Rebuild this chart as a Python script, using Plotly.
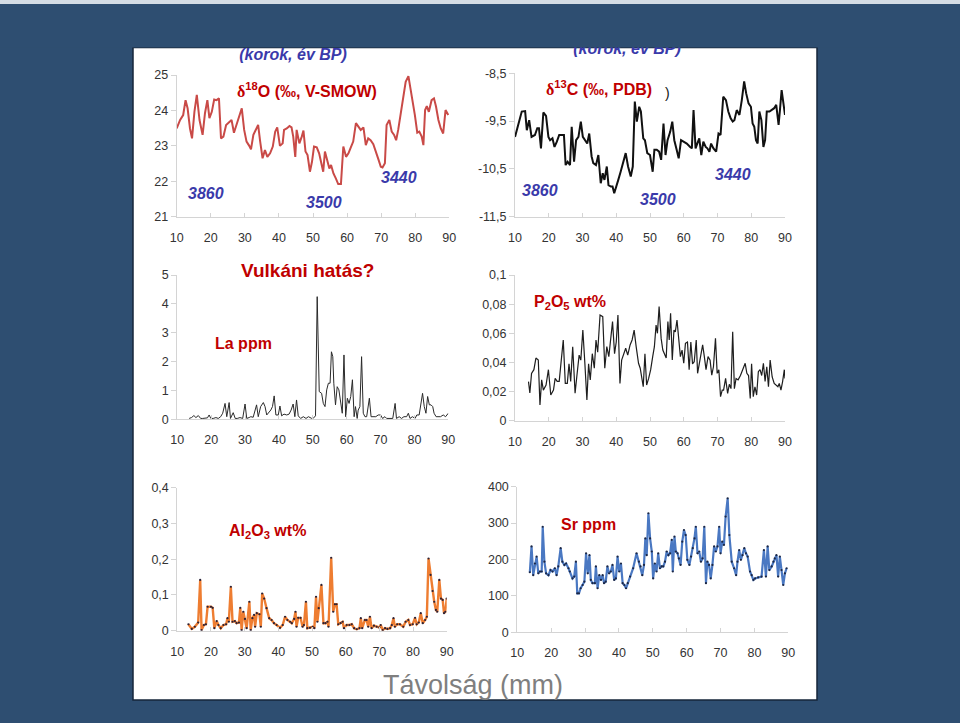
import plotly.graph_objects as go

W, H = 960, 723

# ---------------- data ----------------
x_ticks = [10, 20, 30, 40, 50, 60, 70, 80, 90]

d18o_x = [10.0, 11.0, 11.9, 12.6, 13.2, 13.9, 14.5, 15.2, 15.9, 16.7,
          17.6, 18.3, 19.0, 19.6, 20.3, 21.0, 21.7, 22.4, 23.0, 23.7,
          24.5, 25.5, 26.1, 26.8, 27.6, 28.4, 29.1, 29.8, 30.5, 31.3,
          31.8, 32.5, 33.3, 33.9, 34.5, 35.2, 35.9, 36.6, 37.4, 38.2,
          38.9, 39.5, 40.3, 41.1, 41.5, 42.3, 43.1, 43.7, 44.2, 44.8,
          45.2, 46.0, 46.7, 47.2, 47.8, 48.4, 49.1, 49.7, 50.3, 51.1,
          51.8, 52.5, 53.0, 53.5, 54.0, 54.8, 55.3, 56.0, 56.7, 57.4,
          58.2, 58.9, 59.7, 60.4, 61.1, 61.8, 62.6, 63.3, 64.0, 64.8,
          65.5, 66.2, 66.9, 67.7, 68.5, 69.2, 69.9, 70.4, 71.1, 71.6,
          72.4, 73.1, 73.8, 74.4, 75.0, 75.7, 76.5, 77.2, 78.0, 78.7,
          79.2, 79.9, 80.6, 81.2, 81.9, 82.4, 82.9, 83.4, 84.0, 84.8,
          85.5, 86.1, 86.8, 87.5, 88.2, 88.9, 89.7]
d18o_y = [23.49, 23.73, 23.87, 24.29, 24.06, 23.49, 23.21, 23.96, 24.44, 23.73,
          23.31, 23.92, 24.29, 23.78, 23.96, 24.31, 24.29, 24.34, 23.21, 23.26,
          23.59, 23.68, 23.73, 23.37, 23.59, 23.82, 24.06, 23.45, 23.12, 23.0,
          22.9, 23.31, 23.45, 23.59, 23.12, 22.65, 22.88, 22.69, 22.79, 22.98,
          23.4, 23.52, 23.0, 23.07, 23.45, 23.49, 23.56, 23.52, 23.26, 22.69,
          23.45, 23.07, 23.26, 23.43, 22.84, 22.74, 22.27, 22.55, 22.98, 22.96,
          22.79, 22.43, 22.27, 22.84, 22.65, 22.36, 22.46, 22.22, 22.08, 21.92,
          21.92, 22.98, 22.69, 22.79, 22.96, 23.12, 23.64, 23.54, 23.45, 23.52,
          23.02, 23.21, 23.16, 23.05, 22.84, 22.62, 22.41, 22.39, 22.51, 23.59,
          23.73, 23.4, 23.31, 23.16, 23.45, 23.87, 24.39, 24.81, 24.97, 24.58,
          24.2, 23.87, 23.37, 23.4, 23.26, 23.02, 24.01, 24.12, 23.96, 24.29,
          24.34, 24.11, 23.73, 23.49, 23.35, 24.01, 23.87]
d18o_ticks = [21, 22, 23, 24, 25]
d18o_ticktext = ["21", "22", "23", "24", "25"]

d13c_x = [10.0, 11.0, 12.0, 13.0, 13.5, 14.2, 14.9, 15.9, 16.6, 17.1,
          17.7, 18.4, 19.2, 19.9, 20.4, 21.1, 21.7, 22.4, 23.1, 23.8,
          24.5, 25.0, 25.6, 26.3, 26.8, 27.5, 28.1, 28.8, 29.5, 30.1,
          30.7, 31.4, 32.0, 32.7, 33.2, 34.0, 34.7, 35.4, 36.0, 36.5,
          37.2, 37.7, 38.4, 38.9, 39.4, 39.9, 40.6, 41.3, 42.1, 42.8,
          43.5, 44.3, 44.9, 45.5, 46.1, 46.8, 47.3, 48.0, 48.5, 49.2,
          50.0, 50.8, 51.3, 52.0, 52.7, 53.3, 54.0, 54.6, 55.2, 56.0,
          56.6, 57.2, 57.9, 58.5, 59.2, 59.9, 60.9, 61.9, 62.4, 62.9,
          63.5, 64.0, 64.6, 65.2, 65.8, 66.5, 67.0, 67.6, 68.1, 68.8,
          69.6, 70.3, 70.9, 71.7, 72.5, 73.2, 73.9, 74.5, 75.0, 75.7,
          76.5, 77.2, 77.9, 78.5, 79.2, 79.9, 80.4, 80.9, 81.4, 81.9,
          82.4, 83.0, 83.6, 84.1, 84.6, 85.4, 86.1, 86.8, 87.4, 88.1,
          88.5, 89.0, 90.0]
d13c_y = [-9.83, -9.58, -9.30, -9.29, -9.69, -9.48, -9.83, -9.79, -9.65, -9.65,
          -10.07, -9.32, -9.39, -9.83, -9.90, -9.86, -10.04, -9.93, -9.79, -9.79,
          -9.79, -10.42, -10.35, -10.42, -9.62, -10.35, -9.90, -9.83, -9.51, -9.83,
          -9.90, -9.97, -9.76, -10.24, -10.38, -10.42, -10.21, -10.80, -10.59, -10.73,
          -10.45, -10.84, -10.87, -10.87, -11.01, -10.87, -10.73, -10.56, -10.35, -10.17,
          -10.45, -10.66, -10.45, -9.09, -9.51, -9.20, -9.30, -9.86, -9.90, -10.17,
          -10.21, -10.56, -10.10, -10.10, -10.14, -10.31, -9.55, -10.21, -9.90, -9.72,
          -9.51, -9.90, -10.10, -10.28, -9.90, -9.93, -9.97, -10.04, -10.07, -9.27,
          -10.07, -9.97, -9.86, -10.21, -9.93, -10.04, -10.07, -10.14, -9.97, -10.07,
          -10.14, -9.76, -9.79, -8.99, -9.06, -9.30, -9.44, -9.51, -9.48, -9.27,
          -9.37, -9.06, -8.67, -8.92, -9.13, -9.20, -9.55, -9.62, -9.90, -9.97,
          -9.30, -9.48, -10.04, -9.90, -9.30, -9.30, -9.27, -9.23, -9.16, -9.58,
          -9.27, -8.85, -9.37]
d13c_ticks = [-11.5, -10.5, -9.5, -8.5]
d13c_ticktext = ["-11,5", "-10,5", "-9,5", "-8,5"]

la_x = [13.5, 14.2, 14.9, 15.5, 16.2, 16.9, 17.5, 18.2, 18.9, 19.4,
        19.9, 20.6, 21.4, 22.1, 22.8, 23.4, 24.1, 24.6, 25.3, 25.7,
        26.5, 27.1, 27.7, 28.5, 29.3, 30.0, 30.5, 31.2, 31.7, 32.4,
        33.4, 33.9, 34.6, 35.4, 35.9, 36.4, 36.9, 37.6, 38.1, 38.6,
        39.1, 39.8, 40.3, 40.8, 41.5, 42.3, 43.0, 43.6, 44.2, 44.7,
        45.2, 45.7, 46.4, 47.2, 48.0, 48.7, 49.7, 50.1, 50.8, 51.3,
        51.9, 52.6, 53.1, 53.6, 54.1, 54.6, 55.1, 55.5, 55.9, 56.2,
        56.7, 57.2, 57.7, 58.2, 58.7, 59.2, 59.7, 60.2, 60.7, 61.2,
        61.7, 62.2, 62.6, 63.1, 63.4, 63.9, 64.4, 64.9, 65.4, 65.9,
        66.7, 67.2, 67.9, 68.6, 69.3, 70.0, 70.6, 71.3, 71.8, 72.8,
        73.6, 74.3, 74.7, 75.5, 76.2, 76.9, 77.7, 78.2, 78.7, 79.4,
        80.2, 80.7, 81.4, 82.4, 82.9, 83.4, 83.9, 84.4, 84.9, 85.4,
        85.8, 86.4, 87.0, 87.7, 88.5, 89.2, 90.0]
la_y = [0.03, 0.06, 0.13, 0.06, 0.13, 0.03, 0.03, 0.03, 0.05, 0.15,
        0.03, 0.03, 0.06, 0.03, 0.09, 0.21, 0.55, 0.09, 0.58, 0.03,
        0.23, 0.03, 0.03, 0.06, 0.03, 0.53, 0.03, 0.06, 0.09, 0.07,
        0.50, 0.09, 0.44, 0.58, 0.44, 0.15, 0.21, 0.32, 0.44, 0.81,
        0.15, 0.15, 0.46, 0.12, 0.18, 0.15, 0.18, 0.32, 0.53, 0.09,
        0.67, 0.12, 0.03, 0.09, 0.03, 0.09, 0.03, 0.03, 0.12, 4.25,
        0.96, 0.90, 0.55, 0.44, 1.02, 1.25, 1.25, 2.34, 2.17, 1.25,
        0.50, 1.13, 1.02, 0.55, 0.21, 2.23, 0.09, 0.73, 0.55, 0.79,
        1.37, 0.09, 0.44, 0.03, 0.32, 0.44, 2.17, 0.21, 0.09, 0.09,
        0.73, 0.09, 0.09, 0.09, 0.15, 0.15, 0.03, 0.09, 0.03, 0.03,
        0.03, 0.55, 0.03, 0.09, 0.03, 0.09, 0.09, 0.21, 0.03, 0.09,
        0.03, 0.15, 0.15, 0.90, 0.44, 0.21, 0.79, 0.50, 0.50, 0.44,
        0.21, 0.09, 0.09, 0.09, 0.15, 0.09, 0.21]
la_ticks = [0, 1, 2, 3, 4, 5]
la_ticktext = ["0", "1", "2", "3", "4", "5"]

p2o5_x = [14.0, 14.4, 14.9, 15.6, 16.2, 16.9, 17.4, 17.9, 18.4, 19.2,
          19.9, 20.6, 21.4, 21.9, 22.5, 23.1, 23.6, 24.3, 24.9, 25.5,
          26.0, 26.5, 27.1, 27.8, 28.3, 29.0, 29.5, 30.1, 30.7, 31.3,
          31.8, 32.3, 32.9, 33.5, 34.0, 34.5, 35.2, 36.0, 36.6, 37.2,
          37.8, 38.4, 38.9, 39.5, 40.0, 40.5, 41.1, 41.6, 42.2, 42.8,
          43.4, 44.1, 44.7, 45.3, 45.9, 46.6, 47.1, 47.6, 48.0, 48.5,
          49.0, 49.6, 50.2, 50.8, 51.3, 51.8, 52.2, 52.7, 53.3, 53.8,
          54.3, 54.8, 55.3, 55.7, 56.1, 56.6, 57.1, 57.5, 58.0, 58.5,
          59.0, 59.5, 60.0, 60.5, 61.1, 61.6, 62.1, 62.6, 63.1, 63.7,
          64.1, 64.6, 65.1, 65.6, 66.1, 66.6, 67.2, 67.8, 68.3, 68.8,
          69.4, 69.9, 70.4, 70.9, 71.4, 71.8, 72.4, 73.0, 73.5, 74.0,
          74.5, 75.0, 75.5, 76.1, 76.8, 77.5, 78.2, 78.7, 79.2, 79.7,
          80.1, 80.6, 81.1, 81.6, 82.1, 82.6, 83.1, 83.6, 84.1, 84.6,
          85.1, 85.6, 86.2, 86.8, 87.4, 87.9, 88.3, 88.8, 89.3, 89.8,
          90.0]
p2o5_y = [0.0268, 0.019, 0.0325, 0.035, 0.043, 0.0416, 0.0108, 0.028, 0.021, 0.0245,
          0.035, 0.0176, 0.021, 0.029, 0.027, 0.027, 0.039, 0.0554, 0.0256, 0.0256,
          0.039, 0.027, 0.0508, 0.0188, 0.030, 0.045, 0.0416, 0.0622, 0.0394, 0.0142,
          0.039, 0.028, 0.046, 0.036, 0.0554, 0.047, 0.0725, 0.0714, 0.036, 0.0508,
          0.044, 0.0565, 0.068, 0.046, 0.054, 0.0725, 0.0256, 0.0416, 0.045, 0.0497,
          0.045, 0.052, 0.0554, 0.0622, 0.0508, 0.0394, 0.036, 0.027, 0.0233, 0.046,
          0.0245, 0.029, 0.035, 0.044, 0.0508, 0.0657, 0.060, 0.0783, 0.0565, 0.0485,
          0.045, 0.043, 0.068, 0.0554, 0.0737, 0.0416, 0.0622, 0.061, 0.069, 0.0531,
          0.044, 0.0485, 0.0394, 0.0531, 0.054, 0.035, 0.054, 0.039, 0.0405, 0.0554,
          0.0325, 0.039, 0.046, 0.052, 0.044, 0.035, 0.044, 0.0416, 0.0313, 0.037,
          0.0565, 0.0325, 0.035, 0.0165, 0.021, 0.021, 0.029, 0.0188, 0.025, 0.022,
          0.061, 0.022, 0.029, 0.028, 0.031, 0.036, 0.0394, 0.0325, 0.031, 0.0153,
          0.039, 0.0165, 0.0233, 0.0176, 0.0336, 0.035, 0.031, 0.0394, 0.027, 0.037,
          0.0233, 0.0416, 0.030, 0.0256, 0.0245, 0.0233, 0.0256, 0.021, 0.027, 0.035,
          0.029]
p2o5_ticks = [0, 0.02, 0.04, 0.06, 0.08, 0.1]
p2o5_ticktext = ["0", "0,02", "0,04", "0,06", "0,08", "0,1"]

al2o3_x = [13.3, 14.3, 15.2, 16.2, 16.8, 17.2, 17.9, 18.5, 19.0, 20.0,
           20.5, 21.0, 21.7, 22.2, 22.9, 23.7, 24.5, 24.9, 25.3, 25.9,
           26.4, 27.1, 27.6, 28.3, 28.7, 29.1, 29.6, 30.1, 30.6, 31.4,
           31.8, 32.3, 32.8, 33.1, 33.6, 34.4, 34.8, 35.2, 35.8, 36.5,
           37.3, 38.0, 38.7, 39.5, 40.5, 41.3, 42.0, 42.7, 43.5, 44.0,
           44.7, 45.1, 45.4, 45.9, 46.6, 47.2, 47.6, 48.2, 48.6, 49.4,
           50.2, 50.7, 51.2, 51.6, 52.0, 52.8, 53.4, 54.0, 54.6, 54.9,
           55.7, 56.3, 56.8, 57.3, 57.8, 58.5, 59.1, 59.5, 60.3, 61.1,
           61.8, 62.5, 63.3, 64.1, 64.5, 64.9, 65.7, 66.2, 66.7, 67.2,
           67.7, 68.4, 69.2, 70.0, 70.4, 71.0, 71.7, 72.4, 73.2, 73.7,
           74.2, 74.6, 75.3, 76.1, 77.1, 77.8, 78.6, 79.1, 79.9, 80.6,
           81.1, 81.7, 82.3, 82.9, 83.6, 84.1, 84.6, 85.2, 85.8, 86.3,
           86.8, 87.2, 87.8, 88.3, 88.8, 89.2, 89.6, 90.0]
al2o3_y = [0.018, 0.005, 0.011, 0.023, 0.142, 0.002, 0.016, 0.018, 0.067, 0.067,
           0.064, 0.007, 0.027, 0.016, 0.007, 0.016, 0.018, 0.035, 0.025, 0.123,
           0.025, 0.027, 0.021, 0.023, 0.064, 0.002, 0.053, 0.033, 0.007, 0.081,
           0.002, 0.035, 0.044, 0.011, 0.049, 0.046, 0.011, 0.104, 0.090, 0.063,
           0.035, 0.030, 0.021, 0.016, 0.008, 0.016, 0.039, 0.030, 0.025, 0.021,
           0.033, 0.053, 0.011, 0.036, 0.036, 0.011, 0.016, 0.081, 0.007, 0.008,
           0.011, 0.007, 0.095, 0.025, 0.063, 0.128, 0.021, 0.021, 0.025, 0.011,
           0.204, 0.053, 0.074, 0.074, 0.018, 0.021, 0.025, 0.007, 0.016, 0.016,
           0.018, 0.007, 0.004, 0.007, 0.035, 0.007, 0.030, 0.030, 0.011, 0.039,
           0.007, 0.014, 0.011, 0.009, 0.016, 0.002, 0.007, 0.005, 0.007, 0.016,
           0.035, 0.011, 0.018, 0.018, 0.011, 0.025, 0.030, 0.016, 0.018, 0.036,
           0.018, 0.023, 0.049, 0.021, 0.030, 0.039, 0.202, 0.156, 0.111, 0.081,
           0.058, 0.053, 0.142, 0.090, 0.086, 0.049, 0.053, 0.090]
al2o3_ticks = [0, 0.1, 0.2, 0.3, 0.4]
al2o3_ticktext = ["0", "0,1", "0,2", "0,3", "0,4"]

sr_x = [13.7, 14.2, 14.7, 15.2, 15.7, 16.2, 16.7, 17.2, 17.5, 18.0,
        18.5, 19.2, 19.8, 20.4, 21.1, 21.6, 22.1, 22.8, 23.3, 23.9,
        24.4, 25.1, 25.5, 26.3, 26.8, 27.3, 27.7, 28.2, 28.7, 29.3,
        29.8, 30.3, 30.8, 31.3, 31.7, 32.2, 32.9, 33.2, 33.7, 34.2,
        34.7, 35.2, 35.6, 36.1, 36.6, 37.1, 37.6, 38.1, 38.6, 39.1,
        39.6, 40.1, 40.6, 41.1, 41.6, 42.1, 42.6, 43.3, 44.2, 45.2,
        45.9, 46.4, 46.9, 47.4, 47.8, 48.2, 48.7, 49.2, 49.7, 50.1,
        50.6, 51.1, 51.6, 52.1, 52.6, 53.1, 53.6, 54.1, 54.6, 55.1,
        55.6, 55.9, 56.4, 56.8, 57.3, 57.7, 58.2, 58.7, 59.2, 59.7,
        60.2, 60.8, 61.3, 61.8, 62.3, 62.7, 63.2, 63.7, 64.2, 64.7,
        65.2, 65.7, 66.1, 66.6, 67.1, 67.6, 68.1, 68.6, 69.1, 69.6,
        70.0, 70.5, 71.0, 71.5, 72.1, 72.6, 73.3, 74.0, 74.6, 75.0,
        75.5, 76.0, 76.5, 77.0, 77.5, 78.0, 78.7, 79.2, 79.7, 80.2,
        81.1, 82.1, 82.8, 83.4, 83.9, 84.4, 85.1, 85.6, 86.0, 86.5,
        87.0, 87.5, 88.0, 88.5, 89.0, 89.5]
sr_y = [165, 236, 157, 189, 208, 162, 167, 167, 290, 194,
        162, 157, 171, 167, 176, 157, 181, 231, 194, 185,
        189, 176, 167, 148, 153, 194, 107, 107, 121, 130,
        139, 217, 162, 212, 144, 135, 135, 181, 121, 157,
        144, 157, 135, 139, 181, 162, 167, 185, 144, 148,
        208, 167, 189, 135, 130, 121, 135, 153, 176, 217,
        194, 181, 157, 185, 258, 212, 327, 258, 222, 148,
        189, 167, 217, 176, 181, 181, 194, 222, 212, 217,
        254, 167, 263, 222, 217, 203, 185, 249, 281, 267,
        199, 185, 208, 231, 258, 290, 217, 222, 194, 203,
        290, 135, 194, 185, 148, 185, 236, 222, 236, 290,
        217, 249, 240, 318, 368, 267, 194, 176, 157, 194,
        226, 199, 212, 231, 217, 208, 167, 157, 144, 148,
        151, 153, 226, 153, 236, 171, 181, 194, 203, 212,
        153, 208, 171, 130, 162, 176]
sr_ticks = [0, 100, 200, 300, 400]
sr_ticktext = ["0", "100", "200", "300", "400"]

# ---------------- layout helpers ----------------
FONT = "Liberation Sans, Arial, sans-serif"
AXIS_GRAY = "#d4d4d4"
TICK_COLOR = "#333333"
RED = "#c00000"
BLUE_TXT = "#3a3aaa"
BG_BLUE = "#2e4e71"


def dom(x0, x1, y_top, y_bot):
    return [x0 / W, x1 / W], [1 - y_bot / H, 1 - y_top / H]


# pixel boxes of each plot area (left, right, top, bottom)
panels = [
    dict(box=(176.7, 449.3, 75.0, 216.7), yr=[21, 25], yt=d18o_ticks, ytt=d18o_ticktext),
    dict(box=(515.0, 785.0, 73.3, 216.7), yr=[-11.5, -8.5], yt=d13c_ticks, ytt=d13c_ticktext),
    dict(box=(177.3, 448.3, 275.0, 419.3), yr=[0, 5], yt=la_ticks, ytt=la_ticktext),
    dict(box=(515.0, 785.0, 275.0, 420.7), yr=[0, 0.1], yt=p2o5_ticks, ytt=p2o5_ticktext),
    dict(box=(177.3, 446.7, 487.7, 630.7), yr=[0, 0.4], yt=al2o3_ticks, ytt=al2o3_ticktext),
    dict(box=(517.3, 788.3, 486.7, 632.3), yr=[0, 400], yt=sr_ticks, ytt=sr_ticktext),
]

fig = go.Figure()

# series
fig.add_trace(go.Scatter(x=d18o_x, y=d18o_y, xaxis="x", yaxis="y", mode="lines",
                         line=dict(color="#c94a47", width=2)))
fig.add_trace(go.Scatter(x=d13c_x, y=d13c_y, xaxis="x2", yaxis="y2", mode="lines",
                         line=dict(color="#111111", width=2)))
fig.add_trace(go.Scatter(x=la_x, y=la_y, xaxis="x3", yaxis="y3", mode="lines",
                         line=dict(color="#2a2a2a", width=1)))
fig.add_trace(go.Scatter(x=p2o5_x, y=p2o5_y, xaxis="x4", yaxis="y4", mode="lines",
                         line=dict(color="#1e1e1e", width=1.2)))
fig.add_trace(go.Scatter(x=al2o3_x, y=al2o3_y, xaxis="x5", yaxis="y5", mode="lines+markers",
                         line=dict(color="#ee7d31", width=2.4),
                         marker=dict(color="#2a2238", size=2.2)))
fig.add_trace(go.Scatter(x=sr_x, y=sr_y, xaxis="x6", yaxis="y6", mode="lines+markers",
                         line=dict(color="#4a78c2", width=2.2),
                         marker=dict(color="#1c2744", size=2.2)))

layout_axes = {}
for i, p in enumerate(panels, start=1):
    xd, yd = dom(*p["box"])
    sfx = "" if i == 1 else str(i)
    layout_axes["xaxis" + sfx] = dict(
        domain=xd, anchor="y" + sfx, range=[10, 90], tickvals=x_ticks,
        showline=True, linecolor=AXIS_GRAY, linewidth=1,
        ticks="inside", ticklen=4, tickcolor=AXIS_GRAY,
        tickfont=dict(family=FONT, size=12.5, color=TICK_COLOR),
        ticklabelstandoff=9, showgrid=False, zeroline=False, fixedrange=True,
        automargin=False)
    layout_axes["yaxis" + sfx] = dict(
        domain=yd, anchor="x" + sfx, range=p["yr"], tickvals=p["yt"], ticktext=p["ytt"],
        showline=True, linecolor=AXIS_GRAY, linewidth=1,
        ticks="outside", ticklen=5, tickcolor=AXIS_GRAY,
        tickfont=dict(family=FONT, size=12.5, color=TICK_COLOR),
        showgrid=False, zeroline=False, fixedrange=True, automargin=False)

# full-page overlay (pixel coordinates) for the captions cut by the slide frame
layout_axes["xaxis7"] = dict(domain=[0, 1], anchor="y7", range=[0, W], visible=False,
                             fixedrange=True, automargin=False)
layout_axes["yaxis7"] = dict(domain=[0, 1], anchor="x7", range=[H, 0], visible=False,
                             fixedrange=True, automargin=False)

era_label = ["(korok, év BP)", "(korok, év BP)"]
fig.add_trace(go.Scatter(x=[293, 627], y=[55.5, 49.5], xaxis="x7", yaxis="y7", mode="text",
                         text=era_label, cliponaxis=False,
                         textfont=dict(family=FONT, size=16, color=BLUE_TXT,
                                       weight="bold", style="italic")))

fig.update_layout(**layout_axes)

shapes = [
    # white slide panel
    dict(type="rect", xref="paper", yref="paper", layer="below",
         x0=133 / W, x1=817 / W, y0=1 - 700 / H, y1=1 - 47.5 / H,
         fillcolor="white", line=dict(color="#16263a", width=1.5)),
    # frame band covering the top of the captions
    dict(type="rect", xref="paper", yref="paper", layer="above",
         x0=0, x1=1, y0=1 - 47.5 / H, y1=1,
         fillcolor=BG_BLUE, line=dict(width=0)),
    dict(type="rect", xref="paper", yref="paper", layer="above",
         x0=0, x1=1, y0=1 - 4 / H, y1=1,
         fillcolor="#d5dde5", line=dict(width=0)),
]

DELTA = '<span style="font-family:Liberation Serif">δ</span>'
ann = []


def add_text(txt, x, y, size, color, xanchor="center"):
    ann.append(dict(text=txt, x=x / W, y=1 - y / H, xref="paper", yref="paper",
                    xanchor=xanchor, yanchor="middle", showarrow=False,
                    font=dict(family=FONT, size=size, color=color)))


add_text("<b>" + DELTA + "<sup>18</sup>O (‰, V-SMOW)</b>", 307, 90, 16, RED)
add_text("<b>" + DELTA + "<sup>13</sup>C (‰, PDB)</b>", 599, 88, 16, RED)
add_text(")", 667, 93, 14, "#111111")
for t, x, y in [("3860", 206, 194), ("3500", 324, 202), ("3440", 399, 177),
                ("3860", 540, 191), ("3500", 658, 199), ("3440", 733, 174)]:
    add_text("<b><i>" + t + "</i></b>", x, y, 16, BLUE_TXT)
add_text("<b>Vulkáni hatás?</b>", 307, 270, 19, RED)
add_text("<b>La ppm</b>", 243, 343, 16, RED)
add_text("<b>P<sub>2</sub>O<sub>5</sub> wt%</b>", 570, 302, 16, RED)
add_text("<b>Al<sub>2</sub>O<sub>3</sub> wt%</b>", 267, 531, 16, RED)
add_text("<b>Sr ppm</b>", 588, 524, 16, RED)
add_text("Távolság (mm)", 473, 685, 27, "#7f7f7f")

fig.update_layout(
    width=W, height=H,
    margin=dict(l=0, r=0, t=0, b=0, pad=0, autoexpand=False),
    paper_bgcolor=BG_BLUE,
    plot_bgcolor="rgba(0,0,0,0)",
    showlegend=False,
    shapes=shapes,
    annotations=ann,
    font=dict(family=FONT),
)

page_js = ("document.documentElement.style.margin='0px';"
           "document.body.style.margin='0px';"
           "document.body.style.padding='0px';"
           "document.documentElement.style.background='" + BG_BLUE + "';"
           "document.body.style.overflow='hidden';")
fig.write_html("out.html", config={"displayModeBar": False}, post_script=page_js)
